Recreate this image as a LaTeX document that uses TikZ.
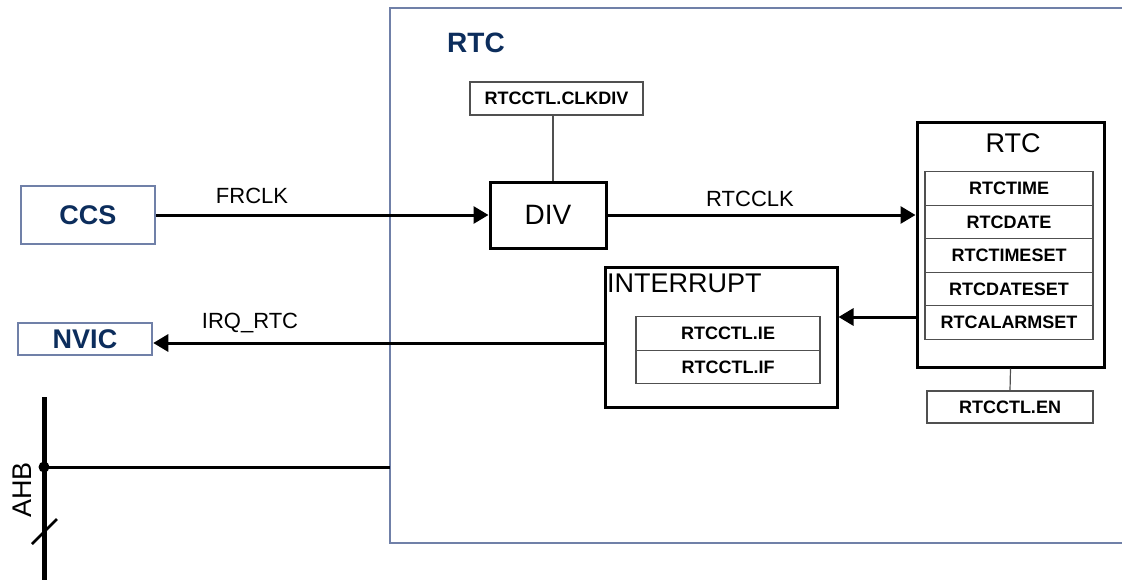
\documentclass[tikz,border=0pt]{standalone}
\usepackage{fontspec}
\setmainfont{Liberation Sans}
\usetikzlibrary{arrows.meta}
\definecolor{frameblue}{RGB}{112,128,168}
\definecolor{titleblue}{RGB}{12,45,92}
\definecolor{reggray}{RGB}{80,80,80}
\newcommand{\fsz}[1]{\fontsize{#1}{#1}\selectfont}
\begin{document}
\begin{tikzpicture}[x=1pt,y=-1pt,
  extbox/.style={draw=frameblue, line width=2.5pt, fill=white, inner sep=0pt, font=\fsz{27}\bfseries, text=titleblue},
  blk/.style={draw=black, line width=3pt, fill=white, inner sep=0pt},
  reg/.style={draw=reggray, line width=1.2pt, fill=white, inner sep=0pt, font=\fsz{18}\bfseries},
  sig/.style={line width=3pt, -{Triangle[length=15pt,width=17pt]}},
  lbl/.style={inner sep=0pt, font=\fsz{22}},
  thin/.style={draw=reggray, line width=1.2pt}]
\useasboundingbox (0,0) rectangle (1122,579);
% outer RTC frame
\draw[frameblue, line width=2.5pt] (1124,8) -- (390,8) -- (390,543) -- (1124,543);
\node[inner sep=0pt, font=\fsz{28}\bfseries, text=titleblue] (rtctitle) at (476,43) {RTC};
% external blocks
\node[extbox, minimum width=134pt, minimum height=58pt] (ccs) at (88,215) {CCS};
\node[extbox, minimum width=134pt, minimum height=32pt] (nvic) at (85,339) {NVIC};
% divider
\node[reg, minimum width=173pt, minimum height=33pt] (clkdiv) at (556.5,98.5) {RTCCTL.CLKDIV};
\node[blk, minimum width=116pt, minimum height=66pt, font=\fsz{28}] (div) at (548,215) {DIV};
% inner RTC
\node[blk, minimum width=187pt, minimum height=245pt] (rtcin) at (1010.5,244.5) {};
\node[inner sep=0pt, font=\fsz{27}] (rtclbl) at (1013,143) {RTC};
\node[reg, minimum width=168pt, minimum height=33.5pt] (r1) at (1009,188.5) {RTCTIME};
\node[reg, minimum width=168pt, minimum height=33.5pt] (r2) at (1009,222) {RTCDATE};
\node[reg, minimum width=168pt, minimum height=33.5pt] (r3) at (1009,255.5) {RTCTIMESET};
\node[reg, minimum width=168pt, minimum height=33.5pt] (r4) at (1009,289) {RTCDATESET};
\node[reg, minimum width=168pt, minimum height=33.5pt] (r5) at (1009,322.5) {RTCALARMSET};
\node[reg, minimum width=166pt, minimum height=32pt] (en) at (1010,407) {RTCCTL.EN};
% interrupt
\node[blk, minimum width=232pt, minimum height=140pt] (intr) at (721,337) {};
\node[inner sep=0pt, anchor=west, font=\fsz{27}] (intrlbl) at (607,283) {INTERRUPT};
\node[reg, minimum width=184pt, minimum height=33.5pt] (ie) at (728,333.5) {RTCCTL.IE};
\node[reg, minimum width=184pt, minimum height=33.5pt] (if) at (728,367) {RTCCTL.IF};
% connectors
\draw[sig] (ccs.east) -- (div.west);
\node[lbl] (frclk) at (252,196) {FRCLK};
\draw[sig] (div.east) -- (div.east -| rtcin.west);
\node[lbl] (rtcclk) at (750,199) {RTCCLK};
\coordinate (ya) at (0,317);
\draw[sig] (ya -| rtcin.west) -- (ya -| intr.east);
\coordinate (yb) at (0,343);
\draw[sig] (yb -| intr.west) -- (yb -| nvic.east);
\node[lbl] (irqlbl) at (250,323) {IRQ\_RTC};
\draw[thin] (clkdiv.south -| 553,0) -- (div.north -| 553,0);
\draw[thin] (rtcin.south) -- (en.north);
% AHB bus
\coordinate (bt) at (44,397);
\coordinate (bb) at (44,582);
\draw[line width=5pt] (bt) -- (bb);
\node[circle, fill=black, inner sep=0pt, minimum size=11pt] (dot) at (44,467) {};
\coordinate (fl) at (390,467);
\draw[line width=3pt] (dot.center) -- (fl);
\coordinate (s1) at (32,544);
\coordinate (s2) at (57,519);
\draw[line width=2.5pt] (s1) -- (s2);
\node[rotate=90, inner sep=0pt, font=\fsz{27}] (ahb) at (22,490) {AHB};
\end{tikzpicture}
\end{document}
